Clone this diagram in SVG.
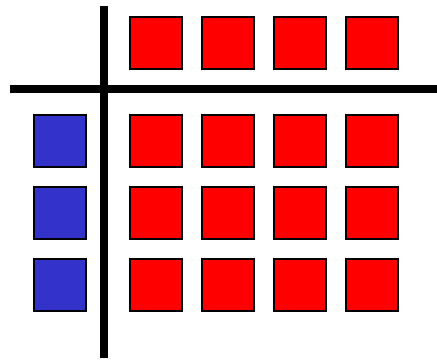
<svg xmlns="http://www.w3.org/2000/svg" width="437" height="360" viewBox="0 0 437 360">
<style>
.r{fill:#FF0000;stroke:#000;stroke-width:2}
.b{fill:#3333CC;stroke:#000;stroke-width:2}
.ln{stroke:#000;stroke-width:8;fill:none}
</style>
<rect width="437" height="360" fill="#fff"/>
<g id="connectors">
<line class="ln" x1="104" y1="6" x2="104" y2="358"/>
<line class="ln" x1="10" y1="89" x2="437" y2="89"/>
</g>
<g id="top-row">
<rect id="t1" class="r" x="130" y="17" width="52" height="52"/>
<rect id="t2" class="r" x="202" y="17" width="52" height="52"/>
<rect id="t3" class="r" x="274" y="17" width="52" height="52"/>
<rect id="t4" class="r" x="346" y="17" width="52" height="52"/>
</g>
<g id="left-col">
<rect id="l1" class="b" x="34" y="115" width="52" height="52"/>
<rect id="l2" class="b" x="34" y="187" width="52" height="52"/>
<rect id="l3" class="b" x="34" y="259" width="52" height="52"/>
</g>
<g id="grid">
<rect id="g11" class="r" x="130" y="115" width="52" height="52"/>
<rect id="g12" class="r" x="202" y="115" width="52" height="52"/>
<rect id="g13" class="r" x="274" y="115" width="52" height="52"/>
<rect id="g14" class="r" x="346" y="115" width="52" height="52"/>
<rect id="g21" class="r" x="130" y="187" width="52" height="52"/>
<rect id="g22" class="r" x="202" y="187" width="52" height="52"/>
<rect id="g23" class="r" x="274" y="187" width="52" height="52"/>
<rect id="g24" class="r" x="346" y="187" width="52" height="52"/>
<rect id="g31" class="r" x="130" y="259" width="52" height="52"/>
<rect id="g32" class="r" x="202" y="259" width="52" height="52"/>
<rect id="g33" class="r" x="274" y="259" width="52" height="52"/>
<rect id="g34" class="r" x="346" y="259" width="52" height="52"/>
</g>
</svg>
